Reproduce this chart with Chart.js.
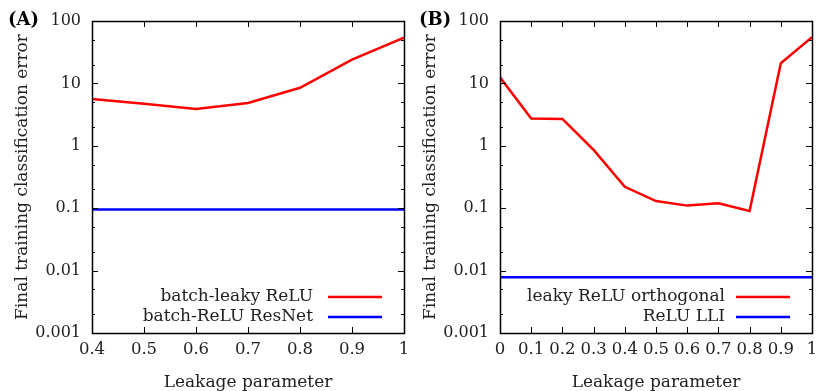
<!DOCTYPE html>
<html>
<head>
<meta charset="utf-8">
<script src="https://cdn.jsdelivr.net/npm/chart.js@4.4.0/dist/chart.umd.min.js"></script>
<style>
html,body{margin:0;padding:0;background:#fff;}
#wrap{position:relative;width:816px;height:391px;overflow:hidden;}
.panel{position:absolute;top:0;width:408px;height:391px;}
</style>
</head>
<body>
<div id="wrap">
  <div class="panel" style="left:0"><canvas id="chartA" width="408" height="391"></canvas></div>
  <div class="panel" style="left:408px"><canvas id="chartB" width="408" height="391"></canvas></div>
</div>
<script>
// Panel A data
const xA = [0.4, 0.5, 0.6, 0.7, 0.8, 0.9, 1.0];
const batchLeaky = [5.6, 4.7, 3.9, 4.85, 8.5, 24, 54];
const batchResNet = [0.095, 0.095, 0.095, 0.095, 0.095, 0.095, 0.095];
const xTicksA = [0.4, 0.5, 0.6, 0.7, 0.8, 0.9, 1.0];
const xLabelsA = ['0.4', '0.5', '0.6', '0.7', '0.8', '0.9', '1'];

// Panel B data
const xB = [0, 0.1, 0.2, 0.3, 0.4, 0.5, 0.6, 0.7, 0.8, 0.9, 1.0];
const leakyOrtho = [12.5, 2.75, 2.7, 0.86, 0.22, 0.13, 0.11, 0.12, 0.09, 21, 55];
const reluLLI = [0.0078, 0.0078, 0.0078, 0.0078, 0.0078, 0.0078, 0.0078, 0.0078, 0.0078, 0.0078, 0.0078];
const xTicksB = [0, 0.1, 0.2, 0.3, 0.4, 0.5, 0.6, 0.7, 0.8, 0.9, 1.0];
const xLabelsB = ['0', '0.1', '0.2', '0.3', '0.4', '0.5', '0.6', '0.7', '0.8', '0.9', '1'];

// shared log axis
const yMajor = [0.001, 0.01, 0.1, 1, 10, 100];
const yLabels = ['0.001', '0.01', '0.1', '1', '10', '100'];
const yMinor = [0.002, 0.005, 0.02, 0.05, 0.2, 0.5, 2, 5, 20, 50];

const FONT = 'DejaVu Serif';
const TXT = '#222';

// frame, inward ticks, panel tag and legend (gnuplot look)
const gnuplotStyle = {
  id: 'gnuplotStyle',
  afterDraw(chart, args, opts) {
    const ctx = chart.ctx, a = chart.chartArea;
    const xs = chart.scales.x, ys = chart.scales.y;
    ctx.save();
    ctx.strokeStyle = '#000';
    ctx.lineWidth = 1;
    ctx.beginPath();
    yMajor.forEach(v => {
      const p = Math.round(ys.getPixelForValue(v)) + 0.5;
      ctx.moveTo(a.left, p); ctx.lineTo(a.left + 6, p);
      ctx.moveTo(a.right, p); ctx.lineTo(a.right - 6, p);
    });
    yMinor.forEach(v => {
      const p = Math.round(ys.getPixelForValue(v)) + 0.5;
      ctx.moveTo(a.left, p); ctx.lineTo(a.left + 3, p);
      ctx.moveTo(a.right, p); ctx.lineTo(a.right - 3, p);
    });
    opts.xTicks.forEach(v => {
      const p = Math.round(xs.getPixelForValue(v)) + 0.5;
      ctx.moveTo(p, a.bottom); ctx.lineTo(p, a.bottom - 6);
      ctx.moveTo(p, a.top); ctx.lineTo(p, a.top + 6);
    });
    ctx.stroke();
    ctx.lineWidth = 1.5;
    ctx.strokeRect(Math.round(a.left) + 0.5, Math.round(a.top) + 0.5,
      Math.round(a.right - a.left), Math.round(a.bottom - a.top));

    // panel tag
    ctx.fillStyle = '#000';
    ctx.font = 'bold 18px "' + FONT + '"';
    ctx.textAlign = 'left';
    ctx.textBaseline = 'middle';
    ctx.fillText(opts.tag, opts.tagX, a.top - 1);

    // legend
    ctx.font = '17px "' + FONT + '"';
    ctx.textAlign = 'right';
    ctx.fillStyle = TXT;
    const x1 = a.right - 76, x2 = a.right - 22;
    chart.data.datasets.forEach((ds, i) => {
      const y = a.bottom - 36 + i * 20;
      ctx.fillText(ds.label, a.right - opts.keyTextEnd, y);
      ctx.strokeStyle = ds.borderColor;
      ctx.lineWidth = 2.5;
      ctx.beginPath();
      ctx.moveTo(x1, y); ctx.lineTo(x2, y);
      ctx.stroke();
    });
    ctx.restore();
  }
};

function makePanel(id, xs, series, labels, xMin, xTicks, xLabels, tag, tagX, keyTextEnd) {
  const colors = ['#ff0000', '#0000ff'];
  return new Chart(document.getElementById(id), {
    type: 'line',
    data: {
      datasets: series.map((s, i) => ({
        label: labels[i],
        data: xs.map((x, j) => ({x: x, y: s[j]})),
        borderColor: colors[i],
        borderWidth: 2.5,
        pointRadius: 0,
        tension: 0,
        fill: false
      }))
    },
    options: {
      responsive: false,
      animation: false,
      layout: {padding: {left: 0, right: 4, top: 21, bottom: 0}},
      plugins: {
        legend: {display: false},
        tooltip: {enabled: false},
        gnuplotStyle: {xTicks: xTicks, tag: tag, tagX: tagX, keyTextEnd: keyTextEnd}
      },
      scales: {
        x: {
          type: 'linear',
          min: xMin, max: 1,
          grid: {display: false, drawTicks: false},
          border: {display: false},
          afterBuildTicks: s => { s.ticks = xTicks.map(v => ({value: v})); },
          afterFit: s => { s.height = 58; s.paddingLeft = 0; s.paddingRight = 0; },
          ticks: {
            autoSkip: false, maxRotation: 0, padding: 7,
            color: TXT, font: {family: FONT, size: 16.5},
            callback: (v, i) => xLabels[i]
          },
          title: {
            display: true, text: 'Leakage parameter', color: TXT,
            font: {family: FONT, size: 17}, padding: {top: 0, bottom: -2}
          }
        },
        y: {
          type: 'logarithmic',
          min: 0.001, max: 100,
          grid: {display: false, drawTicks: false},
          border: {display: false},
          afterBuildTicks: s => { s.ticks = yMajor.map(v => ({value: v})); },
          afterFit: s => { s.width = 92; },
          ticks: {
            autoSkip: false, padding: 11,
            color: TXT, font: {family: FONT, size: 16},
            callback: (v, i) => yLabels[i]
          },
          title: {
            display: true, text: 'Final training classification error', color: TXT,
            font: {family: FONT, size: 17}, padding: {top: 12, bottom: 0}
          }
        }
      }
    },
    plugins: [gnuplotStyle]
  });
}

makePanel('chartA', xA, [batchLeaky, batchResNet], ['batch-leaky ReLU', 'batch-ReLU ResNet'],
  0.4, xTicksA, xLabelsA, '(A)', 8, 91);
makePanel('chartB', xB, [leakyOrtho, reluLLI], ['leaky ReLU orthogonal', 'ReLU LLI'],
  0, xTicksB, xLabelsB, '(B)', 11, 87);
</script>
</body>
</html>
